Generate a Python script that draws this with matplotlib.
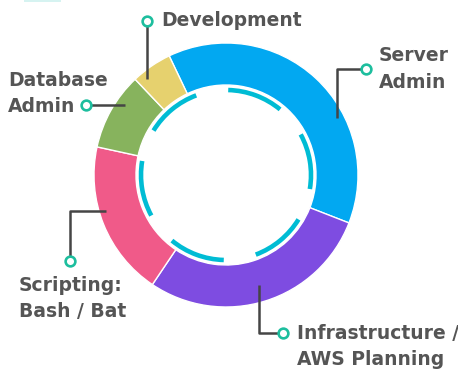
import matplotlib
matplotlib.use("Agg")
import matplotlib.pyplot as plt
from matplotlib.patches import Arc, Rectangle
import matplotlib.patheffects as pe
import numpy as np

# Data (clockwise from the top)
labels = ["Server\nAdmin", "Infrastructure /\nAWS Planning", "Scripting:\nBash / Bat",
          "Database\nAdmin", "Development"]
shares = [38, 28.5, 19, 9.5, 5]
colors = ["#02A8F1", "#7E4CE1", "#F05A89", "#87B35D", "#E6D16E"]

W, H = 458, 369
cx, cy = 226, H - 175
R, ring_w = 132, 42
dash_r = 85
text_col = "#555555"
line_col = "#454545"
dot_col = "#1DBE9E"

fig = plt.figure(figsize=(W / 100, H / 100), dpi=100)
ax = fig.add_axes([0, 0, 1, 1])
ax.set_xlim(0, W)
ax.set_ylim(0, H)
ax.set_aspect("equal")
ax.axis("off")

# faint strip at the very top-left
ax.add_patch(Rectangle((24, H - 1.5), 37, 3, color="#D6F3F1", lw=0))

ax.pie(shares, colors=colors, startangle=115.5, counterclock=False,
       center=(cx, cy), radius=R,
       wedgeprops=dict(width=ring_w, edgecolor="white", linewidth=1.0))
ax.set_xlim(0, W)
ax.set_ylim(0, H)

# dashed inner ring
for start in np.arange(-9.5, 350, 60):
    arc = Arc((cx, cy), 2 * dash_r, 2 * dash_r, theta1=start, theta2=start + 38,
              color="#00BCD4", lw=3.3, capstyle="butt", zorder=5)
    arc.set_path_effects([pe.Stroke(linewidth=6, foreground="white"), pe.Normal()])
    ax.add_patch(arc)


def Y(y):
    return H - y


def leader(xs, ys, dot):
    ax.plot(xs, [Y(v) for v in ys], color=line_col, lw=1.8, solid_capstyle="butt", zorder=6)
    ax.plot([dot[0]], [Y(dot[1])], marker="o", ms=7, mfc="white", mec=dot_col, mew=1.9, zorder=7)


font = dict(fontsize=13.5, fontweight="bold", color=text_col, family="DejaVu Sans",
            linespacing=1.48)

# Development
leader([147, 147], [79, 22], (147, 21))
ax.text(161, Y(20), labels[4], ha="left", va="center", **font)

# Database Admin
leader([86, 125], [105, 105], (86, 105))
ax.text(8, Y(93.5), labels[3], ha="left", va="center", **font)

# Server Admin
leader([366, 337, 337], [69, 69, 118], (366, 69))
ax.text(379, Y(69), labels[0], ha="left", va="center", **font)

# Scripting
leader([106, 70, 70], [211, 211, 261], (70, 261))
ax.text(19, Y(298.5), labels[2], ha="left", va="center", **font)

# Infrastructure
leader([259, 259, 283], [285, 333, 333], (283, 333))
ax.text(297, Y(346.5), labels[1], ha="left", va="center", **font)

fig.savefig("out.png", dpi=100, facecolor="white")
